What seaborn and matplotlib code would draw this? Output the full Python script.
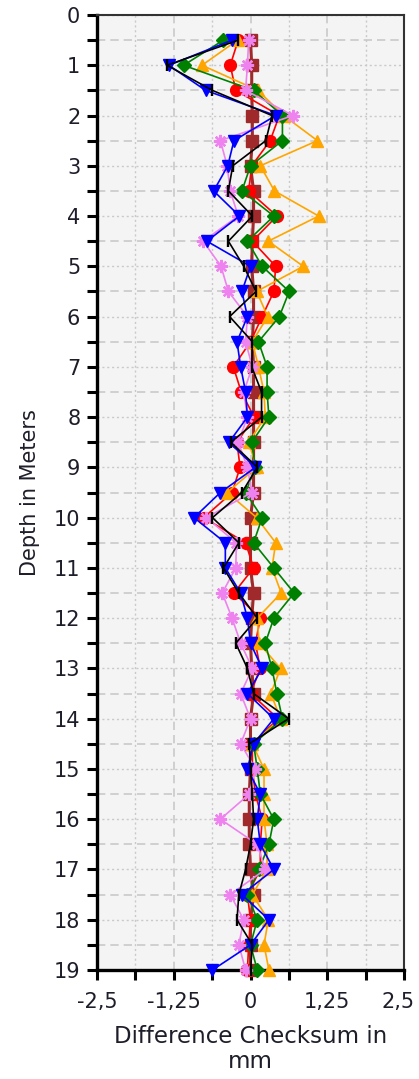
import matplotlib
matplotlib.use("Agg")
import matplotlib.pyplot as plt
import matplotlib.transforms as mtransforms
import numpy as np
import pandas as pd
import seaborn as sns

# ---------------- data ----------------
depths = [0.5, 1.0, 1.5, 2.0, 2.5, 3.0, 3.5, 4.0, 4.5, 5.0,
          5.5, 6.0, 6.5, 7.0, 7.5, 8.0, 8.5, 9.0, 9.5, 10.0,
          10.5, 11.0, 11.5, 12.0, 12.5, 13.0, 13.5, 14.0, 14.5, 15.0,
          15.5, 16.0, 16.5, 17.0, 17.5, 18.0, 18.5, 19.0]

brown = [0.0, 0.02, 0.02, 0.03, 0.03, 0.0, 0.05, 0.05, 0.03, 0.02,
         0.05, 0.05, 0.03, 0.05, 0.05, 0.05, 0.05, 0.05, 0.05, 0.0,
         0.0, 0.0, 0.05, 0.02, 0.0, 0.02, 0.05, 0.0, 0.0, 0.0,
         -0.02, -0.02, -0.02, 0.0, 0.05, 0.0, 0.0, 0.0]

red = [-0.2, -0.33, -0.24, 0.47, 0.32, 0.02, -0.03, 0.43, 0.03, 0.41,
       0.38, 0.19, 0.0, -0.28, -0.15, 0.06, -0.22, -0.17, -0.3, -0.76,
       -0.08, 0.05, -0.27, 0.16, 0.08, 0.16, 0.0, 0.45, 0.03, 0.03,
       0.08, 0.19, 0.16, 0.16, -0.05, 0.0, -0.03, -0.05]

orange = [-0.21, -0.79, 0.12, 0.54, 1.09, 0.16, 0.39, 1.11, 0.29, 0.86,
          0.1, 0.28, 0.03, 0.13, 0.22, 0.24, -0.03, 0.1, -0.38, 0.1,
          0.41, 0.35, 0.5, 0.11, 0.14, 0.49, 0.33, 0.49, 0.03, 0.22,
          0.22, 0.22, 0.27, 0.27, 0.03, 0.29, 0.22, 0.3]

green = [-0.44, -1.09, 0.05, 0.52, 0.52, 0.0, -0.14, 0.38, -0.05, 0.19,
         0.63, 0.47, 0.13, 0.27, 0.27, 0.3, 0.02, 0.08, -0.08, 0.19,
         0.05, 0.38, 0.71, 0.38, 0.24, 0.35, 0.43, 0.52, 0.05, 0.11,
         0.16, 0.38, 0.3, 0.14, -0.05, 0.11, 0.0, 0.11]

violet = [-0.03, -0.05, -0.08, 0.69, -0.49, -0.38, -0.33, -0.2, -0.77, -0.48,
          -0.36, -0.05, -0.08, 0.03, -0.11, -0.05, -0.2, -0.05, 0.02, -0.72,
          -0.23, -0.24, -0.46, -0.3, -0.16, 0.03, -0.16, 0.0, -0.16, 0.08,
          -0.02, -0.49, 0.11, 0.24, -0.33, -0.11, -0.19, -0.08]

blue = [-0.3, -1.33, -0.73, 0.41, -0.27, -0.37, -0.6, -0.18, -0.71, 0.0,
        -0.14, -0.05, -0.22, -0.16, -0.08, -0.05, -0.35, 0.08, -0.49, -0.92,
        -0.41, -0.41, -0.16, -0.05, 0.0, 0.19, -0.05, 0.38, 0.05, -0.05,
        0.16, 0.11, 0.16, 0.38, -0.14, 0.3, 0.0, -0.62]

black = [-0.2, -1.36, -0.62, 0.35, 0.25, -0.29, -0.36, 0.03, -0.36, -0.11,
         0.09, -0.34, 0.03, 0.02, 0.18, 0.18, -0.32, 0.11, -0.14, -0.62,
         -0.19, -0.44, -0.19, 0.11, -0.24, -0.05, 0.05, 0.62, -0.02, 0.0,
         0.03, 0.05, 0.0, -0.08, -0.19, -0.22, 0.03, 0.0]

x_ticks = [-2.5, -1.25, 0.0, 1.25, 2.5]
x_tick_labels = ["-2,5", "-1,25", "0", "1,25", "2,5"]
x_minor = [-1.875, -0.625, 0.625, 1.875]
y_ticks = list(range(0, 20))
y_tick_labels = [str(v) for v in y_ticks]

df = pd.DataFrame({"depth": depths, "brown": brown, "red": red,
                   "orange": orange, "green": green, "violet": violet,
                   "blue": blue, "black": black})

# ---------------- style ----------------
sns.set_theme(style="white")
plt.rcParams["font.family"] = ["DejaVu Sans"]
plt.rcParams["axes.unicode_minus"] = False

fig = plt.figure(figsize=(4.19, 10.79), dpi=100)
ax = fig.add_axes([97 / 419, 109 / 1079, 307 / 419, 955 / 1079])
ax.set_facecolor("#f4f4f4")

styles = [
    ("brown", "#a0292b", "s", 8.5, 1.0, 2.2),
    ("red", "#ff0000", "o", 8.5, 1.0, 1.2),
    ("orange", "#ffa500", "^", 9.0, 1.0, 1.2),
    ("green", "#008000", "D", 7.5, 1.0, 1.2),
    ("violet", "#ee82ee", (8, 2, 0), 9.5, 1.7, 1.2),
    ("blue", "#0000ff", "v", 9.0, 1.0, 1.2),
    ("black", "#000000", "|", 8.5, 1.7, 1.2),
]
for i, (col, color, marker, ms, mew, lw) in enumerate(styles):
    sns.lineplot(data=df, x=col, y="depth", sort=False, estimator=None,
                 orient="y", color=color, marker=marker, markersize=ms,
                 markeredgecolor=color, markeredgewidth=mew, linewidth=lw,
                 ax=ax, zorder=3 + i, clip_on=False, legend=False)

ax.set_xlim(-2.5, 2.5)
ax.set_ylim(19, 0)

ax.set_xticks(x_ticks)
ax.set_xticklabels(x_tick_labels)
ax.set_xticks(x_minor, minor=True)
ax.set_yticks(y_ticks)
ax.set_yticklabels(y_tick_labels)
ax.set_yticks([v + 0.5 for v in y_ticks[:-1]], minor=True)

gcol = "#c9c9c9"
ax.xaxis.grid(True, which="major", linestyle=(0, (5, 3)), color=gcol, linewidth=1.2)
ax.xaxis.grid(True, which="minor", linestyle=(0, (1.5, 2)), color=gcol, linewidth=1.0)
ax.yaxis.grid(True, which="major", linestyle=(0, (1.5, 2)), color=gcol, linewidth=1.0)
ax.yaxis.grid(True, which="minor", linestyle=(0, (5, 3)), color=gcol, linewidth=1.2)
ax.set_axisbelow(True)

tcol = "#1e1e2a"
ax.tick_params(axis="both", which="both", direction="out", length=7, width=2.2,
               color="black", labelsize=15, labelcolor=tcol)
ax.tick_params(axis="y", which="both", pad=5, left=True)
ax.tick_params(axis="x", which="both", pad=9, bottom=True)

# keep the last x tick label inside the figure, as in the reference
last = ax.xaxis.get_major_ticks()[-1].label1
last.set_transform(last.get_transform() +
                   mtransforms.ScaledTranslation(-6 / 100, 0, fig.dpi_scale_trans))

for side in ["left", "bottom"]:
    ax.spines[side].set_color("black")
    ax.spines[side].set_linewidth(2.4)
for side in ["top", "right"]:
    ax.spines[side].set_color("#333333")
    ax.spines[side].set_linewidth(1.5)

ax.set_xlabel("Difference Checksum in\nmm", fontsize=16.5, color=tcol,
              labelpad=9, linespacing=1.1)
ax.set_ylabel("Depth in Meters", fontsize=15, color=tcol, labelpad=10)

fig.savefig("out.png", dpi=100)
